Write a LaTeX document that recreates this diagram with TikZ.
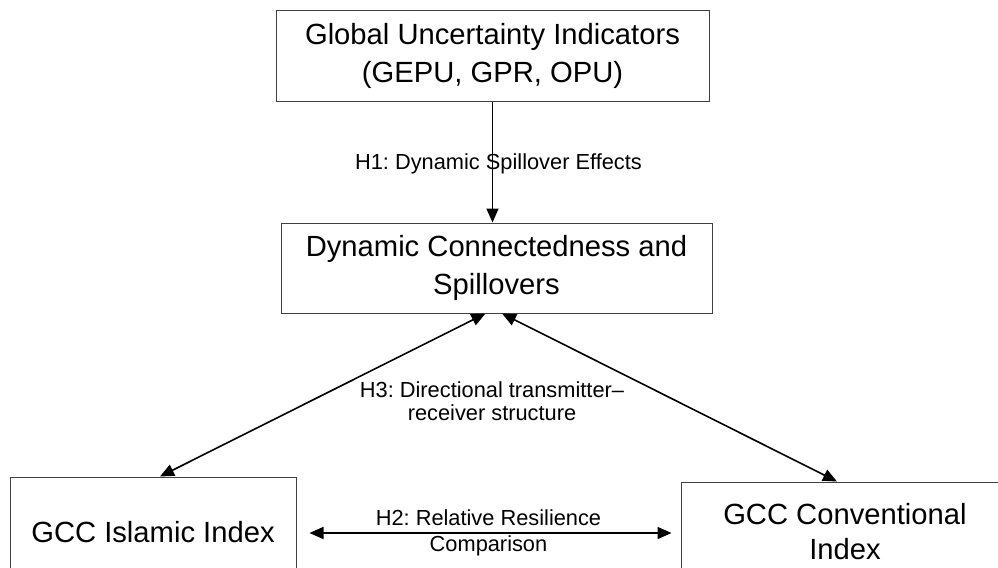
\documentclass[tikz,border=0pt]{standalone}
\usepackage{fontspec}
\setmainfont{Liberation Sans}
\frenchspacing
\usetikzlibrary{arrows.meta, positioning}

\begin{document}
\begin{tikzpicture}[
    x=0.5pt, y=-0.5pt, >={Triangle[length=7pt, width=6pt]},
    box/.style ={rectangle, draw=black!75, line width=0.5pt, fill=white, inner sep=0pt, align=center, font=\fontsize{14.6}{19}\selectfont},
    link/.style={line width=0.8pt},
    lbl/.style ={inner sep=0pt, align=center, font=\fontsize{10.9}{11.5}\selectfont},
]
\useasboundingbox (0,0) rectangle (998,568);
\node[box, minimum width=216.5pt, minimum height=45.5pt] (glob) at (492.5,55.5) {Global Uncertainty Indicators\\(GEPU, GPR, OPU)};
\node[box, minimum width=215.5pt, minimum height=45pt]   (conn) at (496.5,268)  {Dynamic Connectedness and\\Spillovers};
\node[box, minimum width=143pt,   minimum height=55pt]   (isl)  at (153,532)    {GCC Islamic Index};
\node[box, minimum width=164pt,   minimum height=50pt]   (conv) at (845,532)    {GCC Conventional\\[-1.5pt]Index};
\node[lbl] (h3) at (492,401) {H3: Directional transmitter--\\receiver structure};
\draw[->,link] (glob.south) -- (glob.south |- conn.north) node[lbl, midway, xshift=3pt, yshift=-1pt] (h1) {H1: Dynamic Spillover Effects};
\draw[<->,link] ([xshift=-5.5pt]conn.south) -- ([xshift=3.5pt]isl.north);
\draw[<->,link] ([xshift=2.75pt]conn.south) -- ([xshift=-4pt]conv.north);
\draw[<->,link, shorten <=6.5pt, shorten >=4.5pt] ([yshift=-0.5pt]isl.east) -- ([yshift=-0.5pt]isl.east -| conv.west) node[lbl, midway] (h2) {H2: Relative Resilience\\[1.5pt]Comparison};
\end{tikzpicture}
\end{document}
